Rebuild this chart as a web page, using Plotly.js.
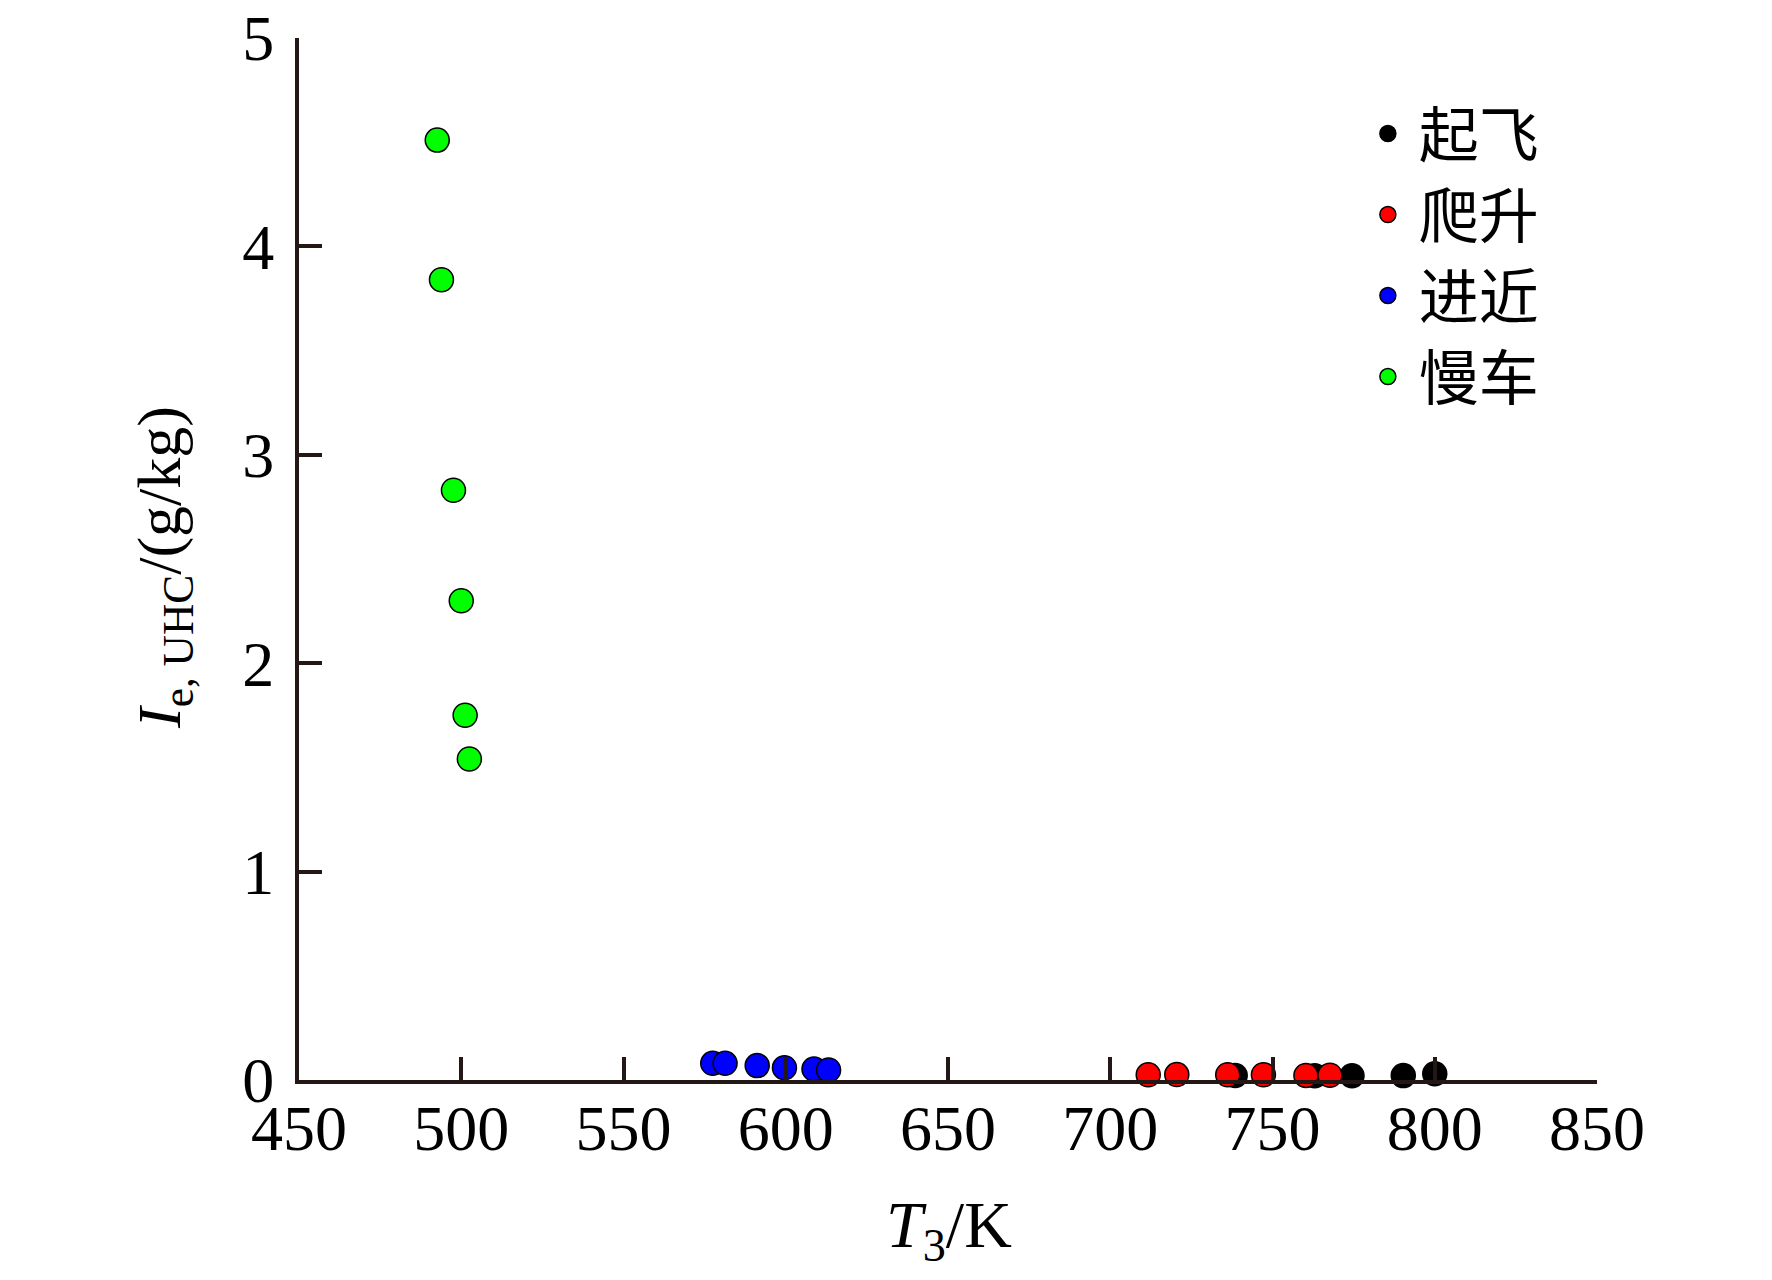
<!DOCTYPE html>
<html>
<head>
<meta charset="utf-8">
<script src="https://cdn.plot.ly/plotly-3.0.1.min.js"></script>
<style>
  html, body { margin: 0; padding: 0; background: #fff; }
  #chart { width: 1772px; height: 1280px; }
</style>
</head>
<body>
<div id="chart"></div>
<script>
// series names (legend order)
const seriesNames = ['起飞', '爬升', '进近', '慢车'];
const seriesColors = ['#000000', '#ff0000', '#0000ff', '#00ff00'];

// T3 / K
const takeoffT3 = [738.5, 763, 774.5, 790.3, 800];
const climbT3 = [711.7, 720.5, 736.2, 747.2, 760.3, 767.7];
const approachT3 = [577.5, 581.3, 591.2, 599.6, 608.7, 613.2];
const idleT3 = [492.6, 493.9, 497.6, 500.0, 501.2, 502.5];

// Ie,UHC / (g/kg)
const takeoffUHC = [0.022, 0.020, 0.020, 0.021, 0.030];
const climbUHC = [0.025, 0.026, 0.025, 0.025, 0.022, 0.023];
const approachUHC = [0.080, 0.080, 0.069, 0.059, 0.053, 0.048];
const idleUHC = [4.51, 3.84, 2.83, 2.30, 1.75, 1.54];

const xs = [takeoffT3, climbT3, approachT3, idleT3];
const ys = [takeoffUHC, climbUHC, approachUHC, idleUHC];

const xTicks = [450, 500, 550, 600, 650, 700, 750, 800, 850];
const yTicks = [0, 1, 2, 3, 4, 5];

const axisColor = '#231815';
const serif = 'Liberation Serif, Times New Roman, serif';

const traces = seriesNames.map((name, i) => ({
  type: 'scatter',
  mode: 'markers',
  name: name,
  x: xs[i],
  y: ys[i],
  cliponaxis: false,
  marker: {
    size: 24,
    color: seriesColors[i],
    line: { color: '#000000', width: 1.5 }
  }
}));

const axisCommon = {
  showline: true,
  linecolor: axisColor,
  linewidth: 4,
  ticks: 'inside',
  ticklen: 23,
  tickwidth: 4,
  tickcolor: axisColor,
  showgrid: false,
  zeroline: false,
  mirror: false,
  tickfont: { family: serif, size: 64, color: '#000' },
  fixedrange: true
};

const layout = {
  width: 1772,
  height: 1280,
  margin: { l: 299, r: 175, t: 38, b: 200 },
  paper_bgcolor: '#ffffff',
  plot_bgcolor: '#ffffff',
  showlegend: true,
  xaxis: Object.assign({}, axisCommon, {
    range: [450, 850],
    tickvals: xTicks,
    ticktext: xTicks.map(String),
    ticklabelstandoff: -11
  }),
  yaxis: Object.assign({}, axisCommon, {
    range: [0, 5],
    tickvals: yTicks,
    ticktext: yTicks.map(String),
    ticklabelstandoff: 8
  }),
  legend: {
    x: 0.815,
    y: 0.952,
    xanchor: 'left',
    yanchor: 'top',
    bgcolor: 'rgba(0,0,0,0)',
    font: { family: 'Noto Sans CJK SC, sans-serif', size: 60, color: '#000' },
    itemwidth: 52,
    traceorder: 'normal'
  },
  annotations: [
    {
      xref: 'paper', yref: 'paper',
      x: 0.5008, y: -0.143,
      xanchor: 'center', yanchor: 'middle',
      showarrow: false,
      text: '<i>T</i><sub>3</sub>/K',
      font: { family: serif, size: 66, color: '#000' }
    },
    {
      xref: 'paper', yref: 'paper',
      x: -0.1048, y: 0.4923,
      xanchor: 'center', yanchor: 'middle',
      showarrow: false,
      textangle: -90,
      text: '<i>I</i><sub>e, UHC</sub>/(g/kg)',
      font: { family: serif, size: 62, color: '#000' }
    }
  ]
};

Plotly.newPlot('chart', traces, layout, { staticPlot: true, displayModeBar: false });
</script>
</body>
</html>
